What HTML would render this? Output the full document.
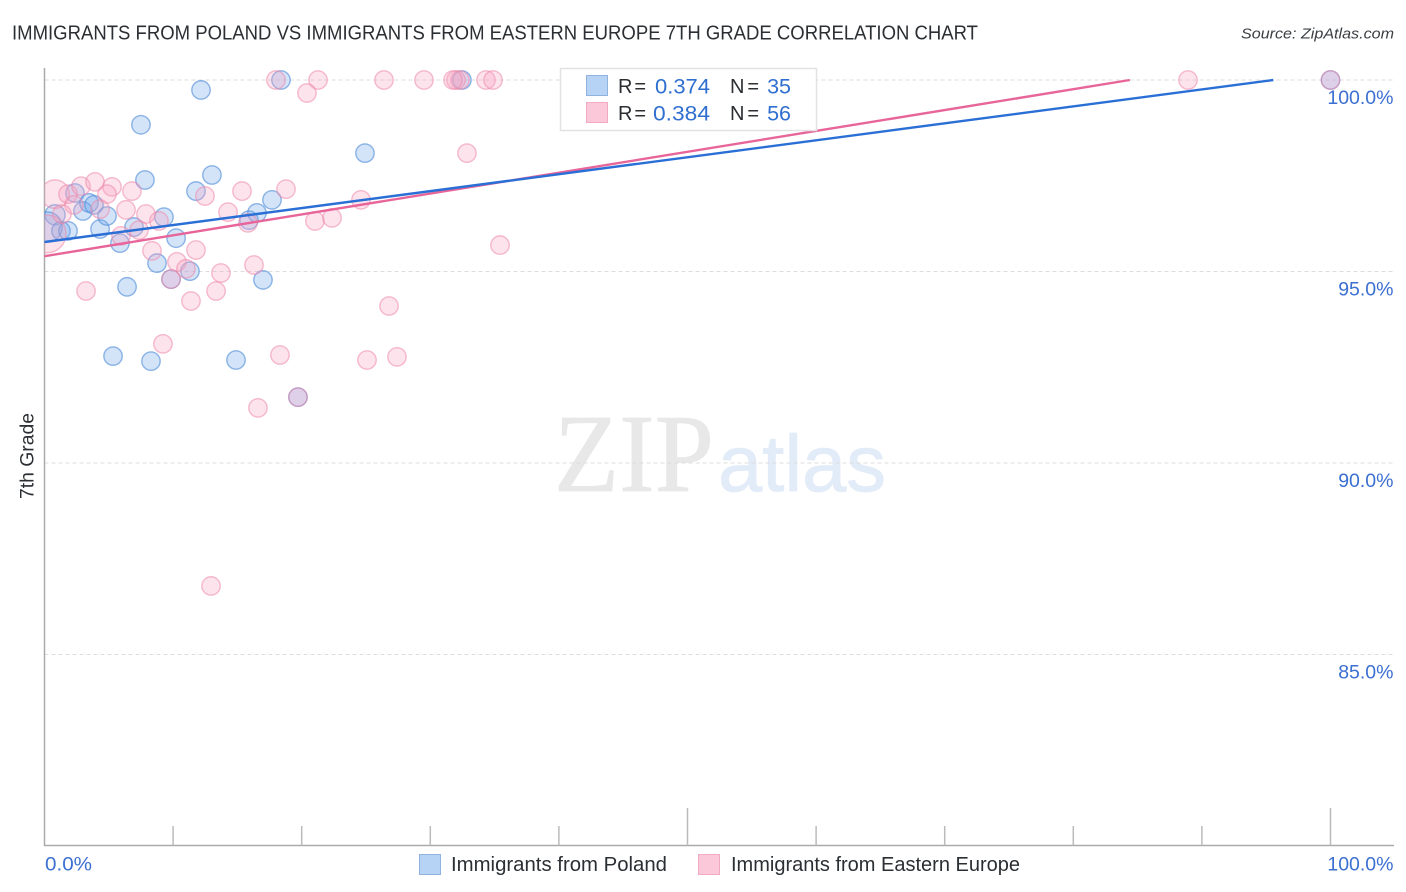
<!DOCTYPE html>
<html lang="en">
<head>
<meta charset="utf-8">
<title>Immigrants from Poland vs Immigrants from Eastern Europe 7th Grade Correlation Chart</title>
<style>
html,body{margin:0;padding:0;background:#fff;width:1406px;height:892px;overflow:hidden}
svg{display:block;font-family:"Liberation Sans",sans-serif}
</style>
</head>
<body>
<svg id="chart" width="1406" height="892" viewBox="0 0 1406 892" xmlns="http://www.w3.org/2000/svg">
  <defs>
    <clipPath id="plot-clip"><rect x="44.5" y="56" width="1350" height="790"/></clipPath>
  </defs>
  <text x="12" y="39.5" font-size="20" fill="#2b2f33" textLength="966" lengthAdjust="spacingAndGlyphs">IMMIGRANTS FROM POLAND VS IMMIGRANTS FROM EASTERN EUROPE 7TH GRADE CORRELATION CHART</text>
  <text x="1394" y="38.5" font-size="15" font-style="italic" fill="#3a3f44" text-anchor="end" textLength="153" lengthAdjust="spacingAndGlyphs">Source: ZipAtlas.com</text>

  <g>
    <text x="554" y="491" font-family="'Liberation Serif',serif" font-size="111" fill="#e8e8e8" stroke="#e8e8e8" stroke-width="0.8" textLength="160" lengthAdjust="spacingAndGlyphs">ZIP</text>
    <text x="718" y="491" font-family="'Liberation Sans',sans-serif" font-size="80" fill="#e2ebf8" stroke="#e2ebf8" stroke-width="0.8" textLength="168" lengthAdjust="spacingAndGlyphs">atlas</text>
  </g>

  <g id="grid"></g>
  <g id="axes">
    <line x1="44.5" y1="68" x2="44.5" y2="846" stroke="#aaaaaa" stroke-width="1.5"/>
    <line x1="44" y1="845.5" x2="1394" y2="845.5" stroke="#aaaaaa" stroke-width="1.5"/>
  </g>
  <g id="xticks"></g>
  <g id="ylabels"></g>
  <g id="xlabels"></g>
  <text transform="translate(33.5,456) rotate(-90)" font-size="19" fill="#2b2f33" text-anchor="middle" textLength="86" lengthAdjust="spacingAndGlyphs">7th Grade</text>

  <g clip-path="url(#plot-clip)">
    <g id="blue-points"></g>
    <g id="pink-points"></g>
    <g id="trends"></g>
  </g>

  <g>
    <rect x="560.5" y="68.5" width="256" height="62" fill="#ffffff" fill-opacity="0.9" stroke="#e2e2e2" stroke-width="1.5"/>
    <rect x="586.5" y="75.5" width="21" height="20" fill="#b6d2f5" stroke="#8fb3de" stroke-width="1"/>
    <rect x="586.5" y="102.5" width="21" height="20" fill="#fbc8d9" stroke="#f2a9c2" stroke-width="1"/>
    <g font-size="20" fill="#2b2f33">
      <text x="618" y="93" textLength="28" lengthAdjust="spacing">R =</text>
      <text x="730" y="93" textLength="29" lengthAdjust="spacing">N =</text>
      <text x="618" y="120" textLength="28" lengthAdjust="spacing">R =</text>
      <text x="730" y="120" textLength="29" lengthAdjust="spacing">N =</text>
    </g>
    <g font-size="21.5" fill="#2f6fd0">
      <text x="710" y="93.5" text-anchor="end" textLength="55" lengthAdjust="spacingAndGlyphs">0.374</text>
      <text x="791" y="93.5" text-anchor="end">35</text>
      <text x="710" y="120.5" text-anchor="end" textLength="57" lengthAdjust="spacingAndGlyphs">0.384</text>
      <text x="791" y="120.5" text-anchor="end">56</text>
    </g>
  </g>

  <g>
    <rect x="419.5" y="854.5" width="21" height="20" fill="#b6d2f5" stroke="#8fb3de" stroke-width="1"/>
    <text x="451" y="871" font-size="20" fill="#2b2f33" textLength="216" lengthAdjust="spacingAndGlyphs">Immigrants from Poland</text>
    <rect x="698.5" y="854.5" width="21" height="20" fill="#fbc8d9" stroke="#f2a9c2" stroke-width="1"/>
    <text x="731" y="871" font-size="20" fill="#2b2f33" textLength="289" lengthAdjust="spacingAndGlyphs">Immigrants from Eastern Europe</text>
  </g>
</svg>
<script>
const yTicks = [100, 95, 90, 85];
const yTickLabels = ["100.0%", "95.0%", "90.0%", "85.0%"];
const xTicks = [0, 10, 20, 30, 40, 50, 60, 70, 80, 90, 100];
const xMajorTicks = [50, 100];
const xEndLabels = ["0.0%", "100.0%"];

const polandX = [0.82,0.20,1.28,1.83,2.37,2.99,3.46,3.85,4.32,4.86,5.87,6.96,7.50,7.81,8.75,9.29,9.84,10.23,11.31,6.42,5.33,8.28,11.78,12.17,13.02,14.89,15.90,16.52,16.99,17.69,18.39,19.71,24.92,32.46,100];
const polandY = [96.48,96.16,96.06,96.06,97.05,96.58,96.79,96.74,96.11,96.45,95.74,96.16,98.83,97.39,95.22,96.42,94.80,95.87,95.01,94.60,92.79,92.66,97.10,99.74,97.52,92.69,96.34,96.53,94.78,96.87,100,91.72,98.09,100,100];
const polandWeight = [1.2,2.7,1,1,1,1,1,1,1,1,1,1,1,1,1,1,1,1,1,1,1,1,1,1,1,1,1,1,1,1,1,1,1,1,1];

const easternX = [0.82,0.20,1.83,2.84,3.93,5.25,4.86,6.80,2.29,1.36,4.32,6.34,7.89,8.90,5.95,7.35,8.36,11.78,10.30,11.00,9.84,13.72,13.34,11.39,3.23,9.21,16.29,14.27,15.36,12.48,15.82,18.78,21.03,22.36,24.61,18.00,21.27,20.41,26.40,29.51,32.00,32.31,34.33,34.88,32.85,35.42,26.79,18.31,25.08,27.41,19.71,16.60,12.95,88.92,100,31.77];
const easternY = [97.02,95.98,97.02,97.23,97.34,97.21,97.02,97.10,96.74,96.50,96.63,96.61,96.50,96.32,95.93,96.08,95.54,95.56,95.25,95.07,94.80,94.96,94.49,94.23,94.49,93.11,95.17,96.55,97.10,96.97,96.27,97.15,96.32,96.40,96.87,100,100,99.66,100,100,100,100,100,100,98.09,95.69,94.10,92.82,92.69,92.77,91.72,91.44,86.79,100,100,100];
const easternWeight = [2.4,4.2,1,1,1,1,1,1,1,1,1,1,1,1,1,1,1,1,1,1,1,1,1,1,1,1,1,1,1,1,1,1,1,1,1,1,1,1,1,1,1,1,1,1,1,1,1,1,1,1,1,1,1,1,1,1];

const polandTrendX = [0, 95.55];
const polandTrendY = [95.77, 100];
const easternTrendX = [0, 84.4];
const easternTrendY = [95.4, 100];

const SVG_NS = "http://www.w3.org/2000/svg";
function sx(v) { return 44.5 + v * 12.86; }
function sy(v) { return 80 + (100 - v) * 38.3; }
function radius(w) { return 9.2 * Math.sqrt(w); }
function make(tag, parentId, attrs) {
  const el = document.createElementNS(SVG_NS, tag);
  Object.keys(attrs).forEach(function (k) { el.setAttribute(k, attrs[k]); });
  document.getElementById(parentId).appendChild(el);
  return el;
}

yTicks.forEach(function (t, i) {
  const g = make("line", "grid", { x1: 44.5, x2: 1394, y1: sy(t), y2: sy(t), stroke: "#dddddd", "stroke-width": 1, "stroke-dasharray": "4 3" });
  
  
  const l = make("text", "ylabels", { x: 1393.5, y: sy(t) + 24, "text-anchor": "end", "font-size": 19.5, fill: "#3b6fd1" });
  
  
  l.textContent = yTickLabels[i];
});

xTicks.forEach(function (t) {
  if (t === 0) return;
  const tall = xMajorTicks.indexOf(t) >= 0;
  const k = make("line", "xticks", { x1: sx(t), x2: sx(t), y1: tall ? 808 : 826, y2: 845.5, stroke: "#bbbbbb", "stroke-width": 1.5 });
  
  
});

const xLabelStart = make("text", "xlabels", { x: 45, y: 870.5, "font-size": 19.5, fill: "#3b6fd1", textLength: 47, lengthAdjust: "spacingAndGlyphs" });


xLabelStart.textContent = xEndLabels[0];
const xLabelEnd = make("text", "xlabels", { x: 1393.5, y: 870.5, "text-anchor": "end", "font-size": 19.5, fill: "#3b6fd1" });


xLabelEnd.textContent = xEndLabels[1];

polandX.forEach(function (x, i) {
  const c = make("circle", "blue-points", { cx: sx(x), cy: sy(polandY[i]), r: radius(polandWeight[i]), fill: "#6ea6ea", "fill-opacity": 0.3, stroke: "#4f8ad6", "stroke-opacity": 0.62, "stroke-width": 1.4 });
  
  
});
easternX.forEach(function (x, i) {
  const c = make("circle", "pink-points", { cx: sx(x), cy: sy(easternY[i]), r: radius(easternWeight[i]), fill: "#f7a3bf", "fill-opacity": 0.3, stroke: "#ec86a9", "stroke-opacity": 0.55, "stroke-width": 1.4 });
  
  
});

const pinkTrend = make("line", "trends", { x1: sx(easternTrendX[0]), y1: sy(easternTrendY[0]), x2: sx(easternTrendX[1]), y2: sy(easternTrendY[1]), stroke: "#e8659a", "stroke-width": 2.4 });


const blueTrend = make("line", "trends", { x1: sx(polandTrendX[0]), y1: sy(polandTrendY[0]), x2: sx(polandTrendX[1]), y2: sy(polandTrendY[1]), stroke: "#2a6fd6", "stroke-width": 2.4 });


</script>
</body>
</html>
